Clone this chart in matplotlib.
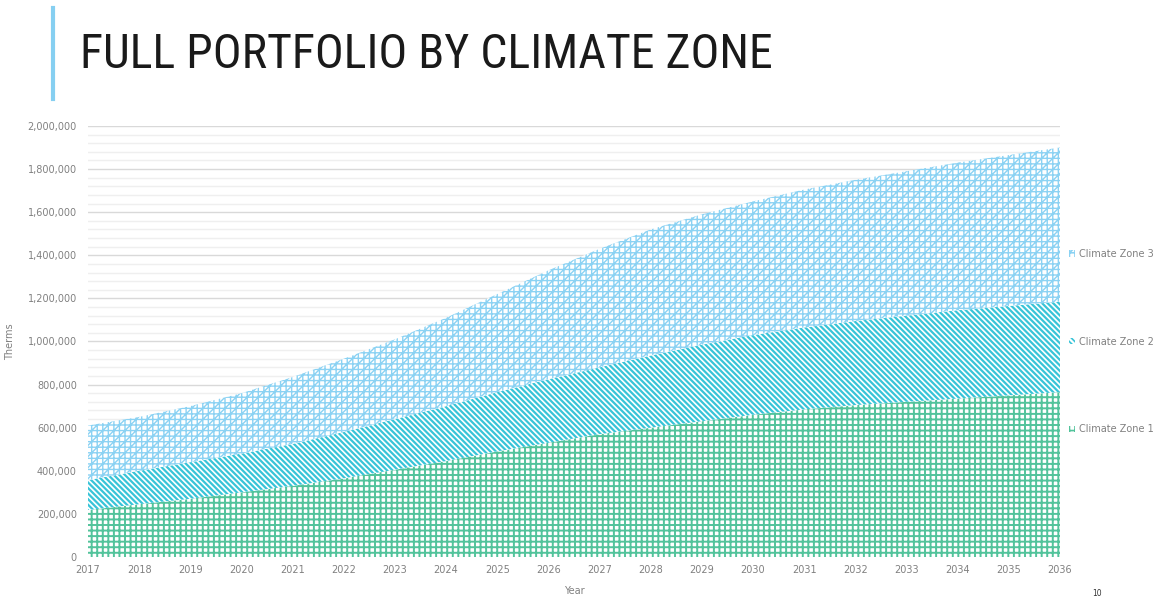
import matplotlib.pyplot as plt
import matplotlib.ticker as mticker
from matplotlib.patches import Patch
from matplotlib import font_manager
import numpy as np

# values (therms)
years = list(range(2017, 2037))
zone1 = [218000, 245000, 270000, 300000, 330000, 365000, 405000, 445000, 490000, 530000,
         570000, 600000, 630000, 660000, 685000, 705000, 720000, 735000, 750000, 765000]
zone2 = [139000, 155000, 170000, 180000, 195000, 215000, 235000, 255000, 275000, 295000,
         310000, 335000, 355000, 370000, 380000, 390000, 400000, 410000, 415000, 420000]
zone3 = [253000, 250000, 260000, 280000, 310000, 340000, 370000, 410000, 455000, 505000,
         550000, 585000, 605000, 620000, 640000, 655000, 670000, 685000, 700000, 715000]
labels = ['Climate Zone 1', 'Climate Zone 2', 'Climate Zone 3']
colors = ['#52C39B', '#38C4D8', '#8BD2F3']
hatches = ['+++', '\\\\\\\\\\\\', '+++///']
hatch_lw = [1.4, 1.6, 1.0]

plt.rcParams['font.family'] = ['DejaVu Sans']
plt.rcParams['hatch.linewidth'] = 1.2

fig = plt.figure(figsize=(11.7, 6.03), dpi=100)
ax = fig.add_axes([0.0752, 0.0763, 0.8308, 0.7148])

y1 = np.array(zone1)
y2 = y1 + np.array(zone2)
y3 = y2 + np.array(zone3)
bottoms = [np.zeros(len(years)), y1, y2]
tops = [y1, y2, y3]
for lo, hi, c, h, lw in zip(bottoms, tops, colors, hatches, hatch_lw):
    pc = ax.fill_between(years, lo, hi, facecolor='white', edgecolor=c, hatch=h, linewidth=0, zorder=2)
    if hasattr(pc, 'set_hatch_linewidth'):
        pc.set_hatch_linewidth(lw)

ax.set_xlim(2017, 2036)
ax.set_ylim(0, 2000000)
ax.set_xticks(years)
ax.yaxis.set_major_locator(mticker.MultipleLocator(200000))
ax.yaxis.set_minor_locator(mticker.MultipleLocator(40000))
ax.yaxis.set_major_formatter(mticker.FuncFormatter(lambda v, p: f'{int(v):,}'))
ax.grid(axis='y', which='major', color='#D9D9D9', linewidth=1.0, zorder=0)
ax.grid(axis='y', which='minor', color='#EFEFEF', linewidth=1.0, zorder=0)
for s in ax.spines.values():
    s.set_visible(False)
ax.tick_params(axis='both', which='both', length=0, labelsize=7, labelcolor='#808080')
ax.tick_params(axis='y', pad=8)
ax.tick_params(axis='x', pad=6)
ax.set_xlabel('Year', fontsize=7, color='#808080', labelpad=8)
ax.set_ylabel('Therms', fontsize=7, color='#808080', labelpad=9)

handles = [Patch(facecolor='white', edgecolor=c, hatch=h, linewidth=0) for c, h in zip(colors, hatches)]
ax.legend(handles[::-1], labels[::-1], loc='upper left', bbox_to_anchor=(1.0, 0.735),
          frameon=False, fontsize=7, labelcolor='#808080', handlelength=0.6, handleheight=0.6,
          handletextpad=0.5, labelspacing=8.0)

# title and slide decorations
names = {f.name for f in font_manager.fontManager.ttflist}
title_fam = [n for n in ['Liberation Sans Narrow', 'Roboto Condensed', 'Open Sans Condensed']
             if n in names] + ['DejaVu Sans']
fig.text(0.068, 0.908, 'FULL PORTFOLIO BY CLIMATE ZONE', fontsize=34.5, color='#1A1A1A',
         family=title_fam, fontstretch='condensed', va='center', ha='left')
fig.add_artist(plt.Line2D([0.0455, 0.0455], [0.836, 0.987], color='#86CFF1', linewidth=3))
fig.text(0.938, 0.008, '10', fontsize=5.5, color='#333333', ha='center', va='bottom')

fig.savefig('out.png', dpi=100)
